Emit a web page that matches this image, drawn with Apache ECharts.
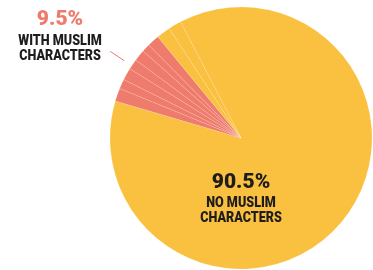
<!DOCTYPE html>
<html>
<head>
<meta charset="utf-8">
<script src="https://cdn.jsdelivr.net/npm/echarts@6/dist/echarts.min.js"></script>
<style>
    html, body { margin: 0; padding: 0; background: #fff; }
    #pie { width: 373px; height: 270px; }
</style>
</head>
<body>
<div id="pie"></div>
<script>
// share of films, percent
var groups = ['NO MUSLIM', 'WITH MUSLIM'];
var shares = [90.5, 9.5];
// individual slices as drawn (same colour slices separated by thin lines)
var yellowSlices = [87.2, 1.7, 1.6];      // first one before the red block, rest after
var redSlices = [1.6, 1.2, 1.5, 1.3, 1.4, 1.0, 1.5];

var YELLOW = '#F9C13F';
var RED = '#EE7B6B';
var INK = '#1E1C1D';
var WORD_FONT = '900 15px Roboto';
var PCT_FONT = '900 21px Roboto';

function sum(arr) {
    var s = 0;
    for (var i = 0; i < arr.length; i++) {
        s += arr[i];
    }
    return s;
}

function buildSlices() {
    var data = [];
    var i = 0;
    data.push({ value: yellowSlices[0], itemStyle: { color: YELLOW } });
    for (i = 0; i < redSlices.length; i++) {
        data.push({ value: redSlices[i], itemStyle: { color: RED } });
    }
    for (i = 1; i < yellowSlices.length; i++) {
        data.push({ value: yellowSlices[i], itemStyle: { color: YELLOW } });
    }
    return data;
}

// one line of label text, squeezed a bit to look condensed
function textLine(str, x, y, font, color, squeeze) {
    return {
        type: 'text', x: x, y: y, z: 10,
        scaleX: squeeze, scaleY: 1,
        style: {
            text: str, align: 'center', verticalAlign: 'middle',
            font: font, fill: color
        }
    };
}

function showPieChart() {
    var pie = document.getElementById('pie');
    var pieChart = echarts.init(pie, null, { renderer: 'canvas' });
    var restYellow = sum(yellowSlices) - yellowSlices[0];
    pieOptions = {
        animation: false,
        graphic: [
            textLine(shares[1] + '%', 60, 20, PCT_FONT, RED, 1),
            textLine(groups[1], 60, 41, WORD_FONT, INK, 0.84),
            textLine('CHARACTERS', 60, 56.5, WORD_FONT, INK, 0.84),
            textLine(shares[0] + '%', 241, 183, PCT_FONT, INK, 1),
            textLine(groups[0], 241, 203, WORD_FONT, INK, 0.84),
            textLine('CHARACTERS', 241, 218.5, WORD_FONT, INK, 0.84)
        ],
        series: [
            {
                name: 'slices',
                type: 'pie',
                center: [241, 138],
                radius: [0, 131],
                startAngle: 117.5,
                clockwise: true,
                silent: true,
                label: { show: false },
                labelLine: { show: false },
                itemStyle: {
                    borderColor: 'rgba(255,255,255,0.28)',
                    borderWidth: 0.5
                },
                data: buildSlices()
            },
            {
                // invisible ring, only carries the red leader line
                name: 'callout',
                type: 'pie',
                center: [241, 138],
                radius: [0, 140],
                startAngle: 117.5,
                clockwise: true,
                silent: true,
                avoidLabelOverlap: false,
                itemStyle: { color: 'rgba(0,0,0,0)' },
                label: { show: false },
                labelLine: { show: false },
                data: [
                    { value: yellowSlices[0] },
                    {
                        value: shares[1],
                        label: {
                            show: true,
                            position: 'outside',
                            formatter: ' ',
                            color: 'rgba(0,0,0,0)'
                        },
                        labelLine: {
                            show: true,
                            length: 17,
                            length2: 0,
                            lineStyle: { color: RED, width: 1 }
                        }
                    },
                    { value: restYellow }
                ]
            }
        ]
    };
    pieChart.setOption(pieOptions);
}

showPieChart();
</script>
</body>
</html>
